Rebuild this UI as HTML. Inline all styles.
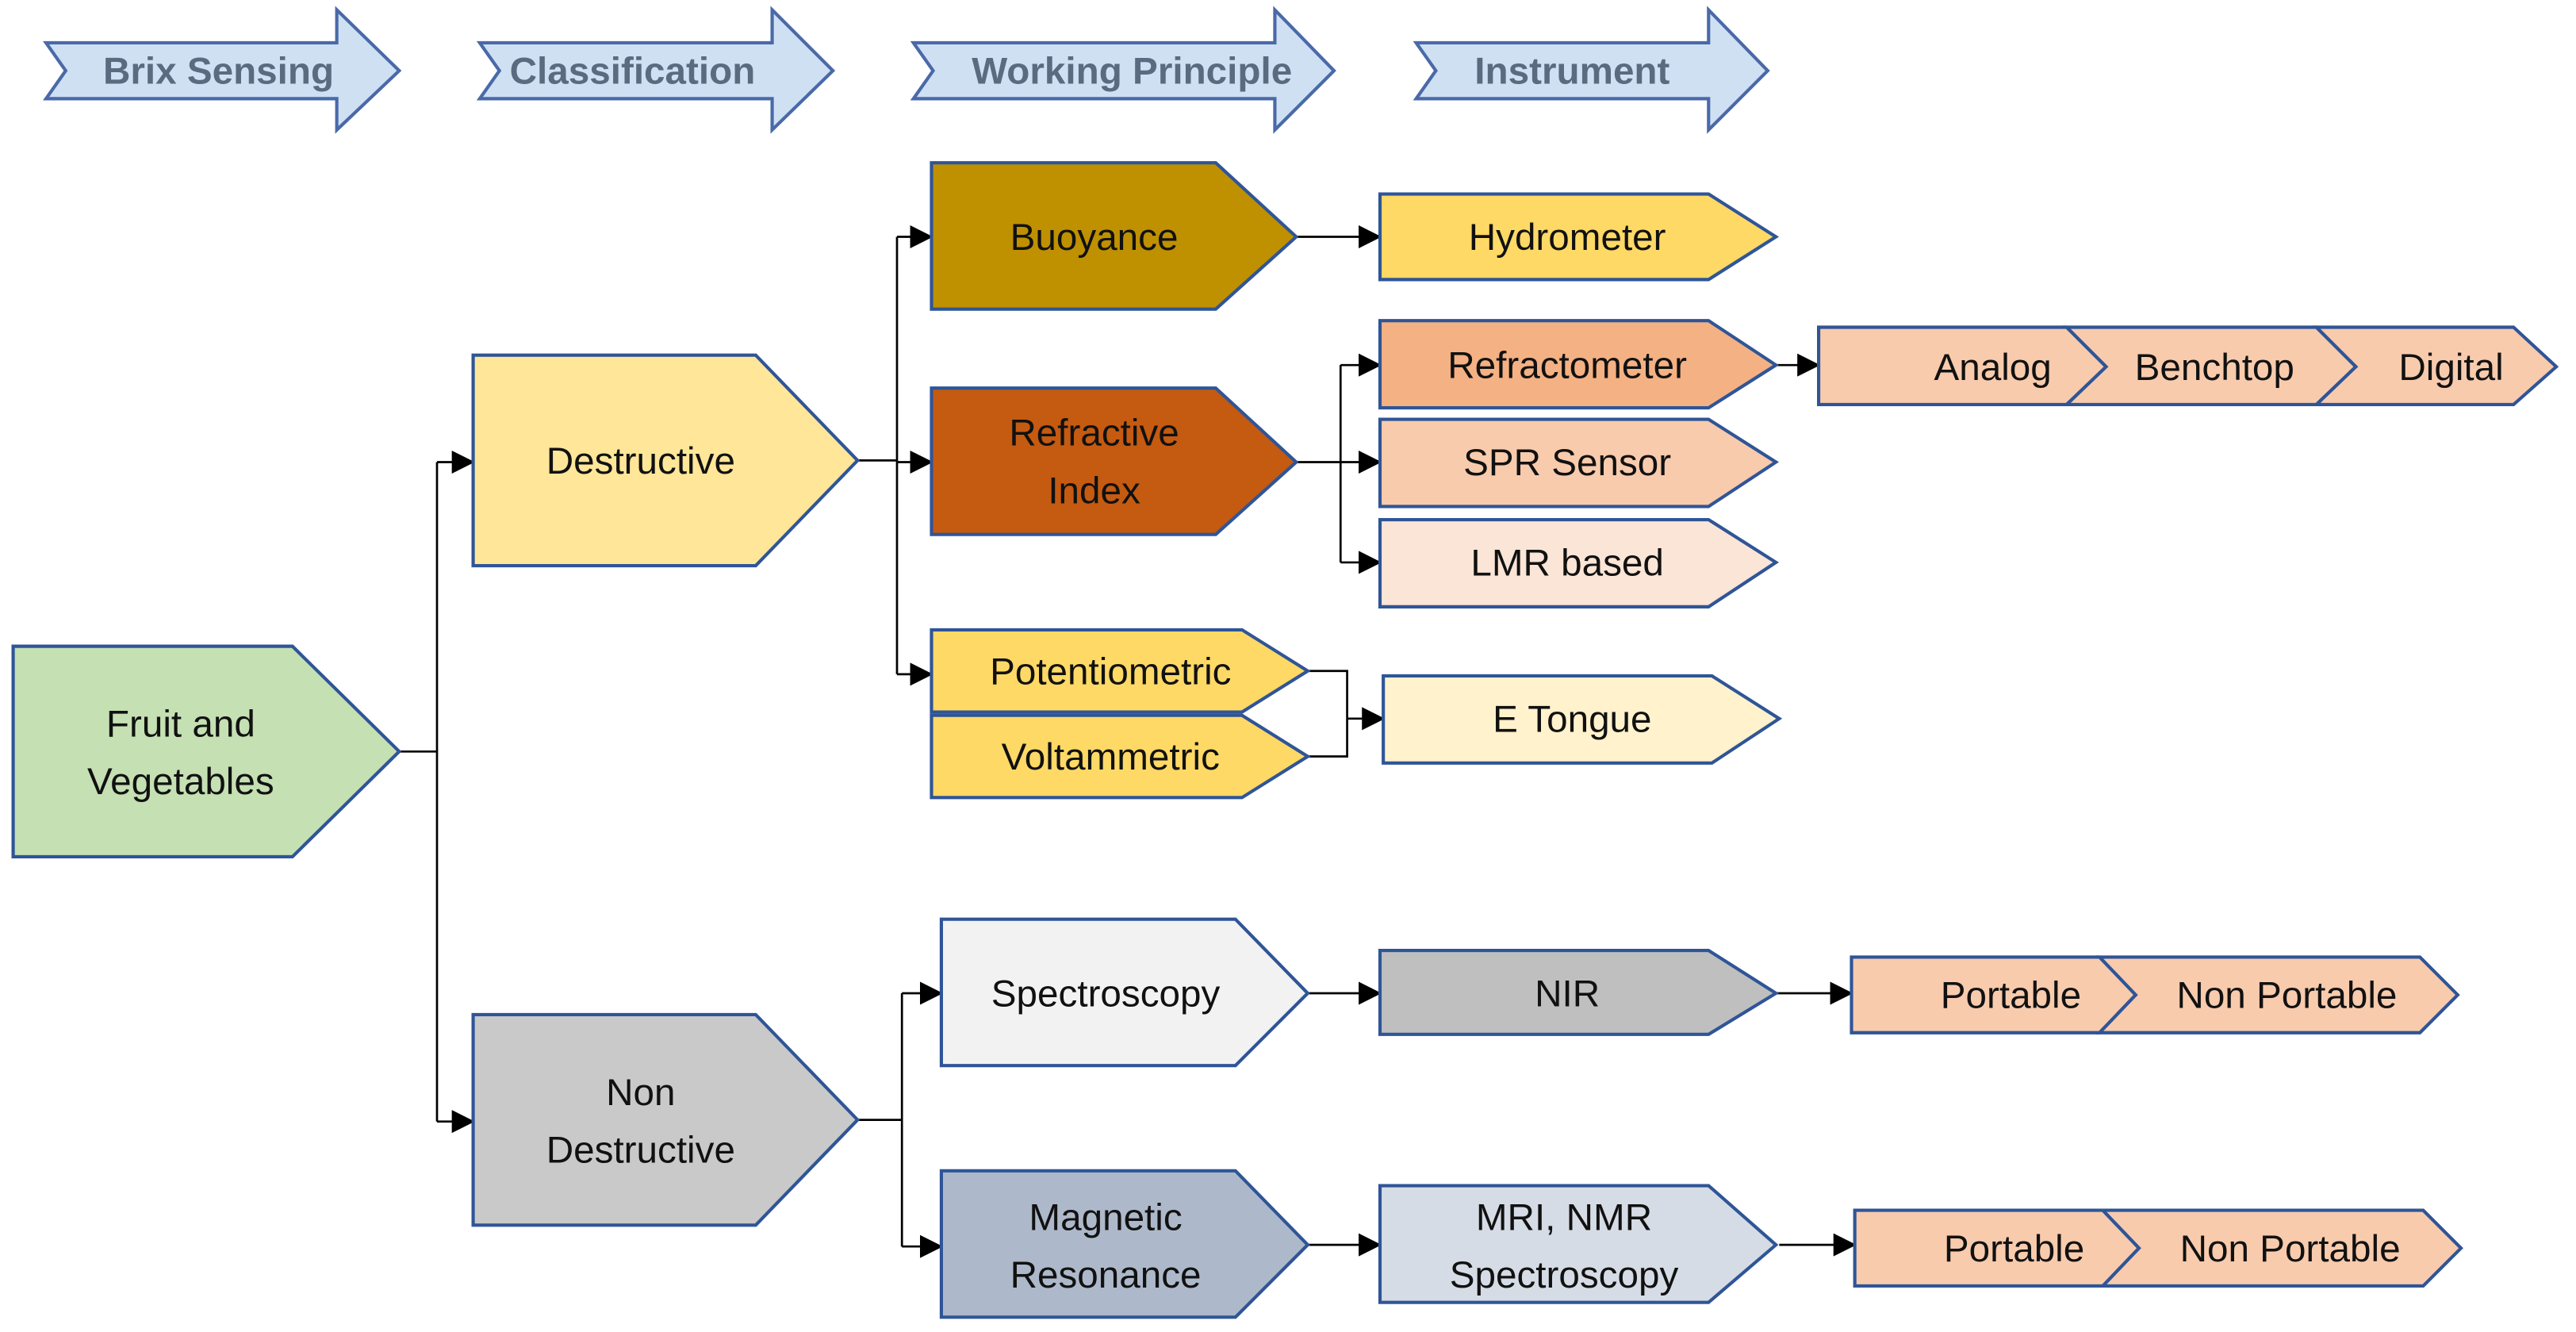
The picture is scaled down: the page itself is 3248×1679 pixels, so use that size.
<!DOCTYPE html>
<html><head><meta charset="utf-8"><style>html,body{margin:0;padding:0;background:#fff}svg{display:block}</style></head>
<body>
<svg width="3248" height="1679" viewBox="0 0 1568 810" preserveAspectRatio="none" xmlns="http://www.w3.org/2000/svg" font-family="Liberation Sans, sans-serif">
<defs><marker id="a" markerWidth="14" markerHeight="14" refX="13" refY="7" orient="auto" markerUnits="userSpaceOnUse"><path d="M0,0 L14,7 L0,14 z" fill="#000"/></marker></defs>
<g fill="#cfe0f3" stroke="#4a69a8" stroke-width="2">
<polygon points="28,26 205,26 205,6 243,43 205,79 205,60 28,60 40,43"/>
<polygon points="292,26 470,26 470,6 507,43 470,79 470,60 292,60 304,43"/>
<polygon points="556,26 776,26 776,6 812,43 776,79 776,60 556,60 568,43"/>
<polygon points="862,26 1040,26 1040,6 1076,43 1040,79 1040,60 862,60 874,43"/>
</g>
<g fill="#5a6b80" font-weight="bold" font-size="23" text-anchor="middle">
<text x="133" y="51">Brix Sensing</text><text x="385" y="51">Classification</text><text x="689" y="51">Working Principle</text><text x="957" y="51">Instrument</text>
</g>
<g stroke="#000" stroke-width="1.3" fill="none">
<path d="M243,457 H266 M266,281 V682"/><path d="M266,281 H288" marker-end="url(#a)"/><path d="M266,682 H288" marker-end="url(#a)"/>
<path d="M522,280 H546 M546,144 V410"/><path d="M546,144 H567" marker-end="url(#a)"/><path d="M546,281 H567" marker-end="url(#a)"/><path d="M546,410 H567" marker-end="url(#a)"/>
<path d="M789,144 H840" marker-end="url(#a)"/>
<path d="M789,281 H816 M816,222 V342"/><path d="M816,222 H840" marker-end="url(#a)"/><path d="M816,281 H840" marker-end="url(#a)"/><path d="M816,342 H840" marker-end="url(#a)"/>
<path d="M796,408 H820 V460 H796"/><path d="M820,437 H842" marker-end="url(#a)"/>
<path d="M1081,222 H1107" marker-end="url(#a)"/>
<path d="M522,681 H549 M549,604 V758"/><path d="M549,604 H573" marker-end="url(#a)"/><path d="M549,758 H573" marker-end="url(#a)"/>
<path d="M796,604 H840" marker-end="url(#a)"/><path d="M796,757 H840" marker-end="url(#a)"/>
<path d="M1081,604 H1127" marker-end="url(#a)"/><path d="M1083,757 H1129" marker-end="url(#a)"/>
</g>
<g stroke="#2f5597" stroke-width="2">
<polygon fill="#c5e0b3" points="8,393 178,393 243,457 178,521 8,521"/>
<polygon fill="#ffe699" points="288,216 460,216 522,280 460,344 288,344"/>
<polygon fill="#c9c9c9" points="288,617 460,617 522,681 460,745 288,745"/>
<polygon fill="#bf9000" points="567,99 740,99 789,144 740,188 567,188"/>
<polygon fill="#c55a11" points="567,236 740,236 789,281 740,325 567,325"/>
<polygon fill="#ffd966" points="567,383 756,383 796,408 756,433 567,433"/>
<polygon fill="#ffd966" points="567,435 756,435 796,460 756,485 567,485"/>
<polygon fill="#ffd966" points="840,118 1040,118 1081,144 1040,170 840,170"/>
<polygon fill="#f4b183" points="840,195 1040,195 1081,222 1040,248 840,248"/>
<polygon fill="#f8cbad" points="840,255 1040,255 1081,281 1040,308 840,308"/>
<polygon fill="#fbe5d6" points="840,316 1040,316 1081,342 1040,369 840,369"/>
<polygon fill="#fff2cc" points="842,411 1042,411 1083,437 1042,464 842,464"/>
<polygon fill="#f8cbad" points="1107,199 1258,199 1282,223 1258,246 1107,246"/>
<polygon fill="#f8cbad" points="1258,199 1410,199 1434,223 1410,246 1258,246 1282,223"/>
<polygon fill="#f8cbad" points="1410,199 1530,199 1556,223 1530,246 1410,246 1434,223"/>
<polygon fill="#f2f2f2" points="573,559 752,559 796,604 752,648 573,648"/>
<polygon fill="#adb9ca" points="573,712 752,712 796,757 752,801 573,801"/>
<polygon fill="#bfbfbf" points="840,578 1040,578 1081,604 1040,629 840,629"/>
<polygon fill="#d6dce5" points="840,721 1040,721 1081,757 1040,792 840,792"/>
<polygon fill="#f8cbad" points="1127,582 1278,582 1300,605 1278,628 1127,628"/>
<polygon fill="#f8cbad" points="1278,582 1473,582 1496,605 1473,628 1278,628 1300,605"/>
<polygon fill="#f8cbad" points="1129,736 1280,736 1302,759 1280,782 1129,782"/>
<polygon fill="#f8cbad" points="1280,736 1475,736 1498,759 1475,782 1280,782 1302,759"/>
</g>
<g fill="#111" font-size="23" text-anchor="middle">
<text x="110" y="448">Fruit and</text><text x="110" y="483">Vegetables</text>
<text x="390" y="288">Destructive</text>
<text x="390" y="672">Non</text><text x="390" y="707">Destructive</text>
<text x="666" y="152">Buoyance</text>
<text x="666" y="271">Refractive</text><text x="666" y="306">Index</text>
<text x="676" y="416">Potentiometric</text><text x="676" y="468">Voltammetric</text>
<text x="954" y="152">Hydrometer</text><text x="954" y="230">Refractometer</text>
<text x="954" y="289">SPR Sensor</text><text x="954" y="350">LMR based</text>
<text x="957" y="445">E Tongue</text>
<text x="1213" y="231">Analog</text><text x="1348" y="231">Benchtop</text><text x="1492" y="231">Digital</text>
<text x="673" y="612">Spectroscopy</text>
<text x="673" y="748">Magnetic</text><text x="673" y="783">Resonance</text>
<text x="954" y="612">NIR</text>
<text x="952" y="748">MRI, NMR</text><text x="952" y="783">Spectroscopy</text>
<text x="1224" y="613">Portable</text><text x="1392" y="613">Non Portable</text>
<text x="1226" y="767">Portable</text><text x="1394" y="767">Non Portable</text>
</g>
</svg>
</body></html>
